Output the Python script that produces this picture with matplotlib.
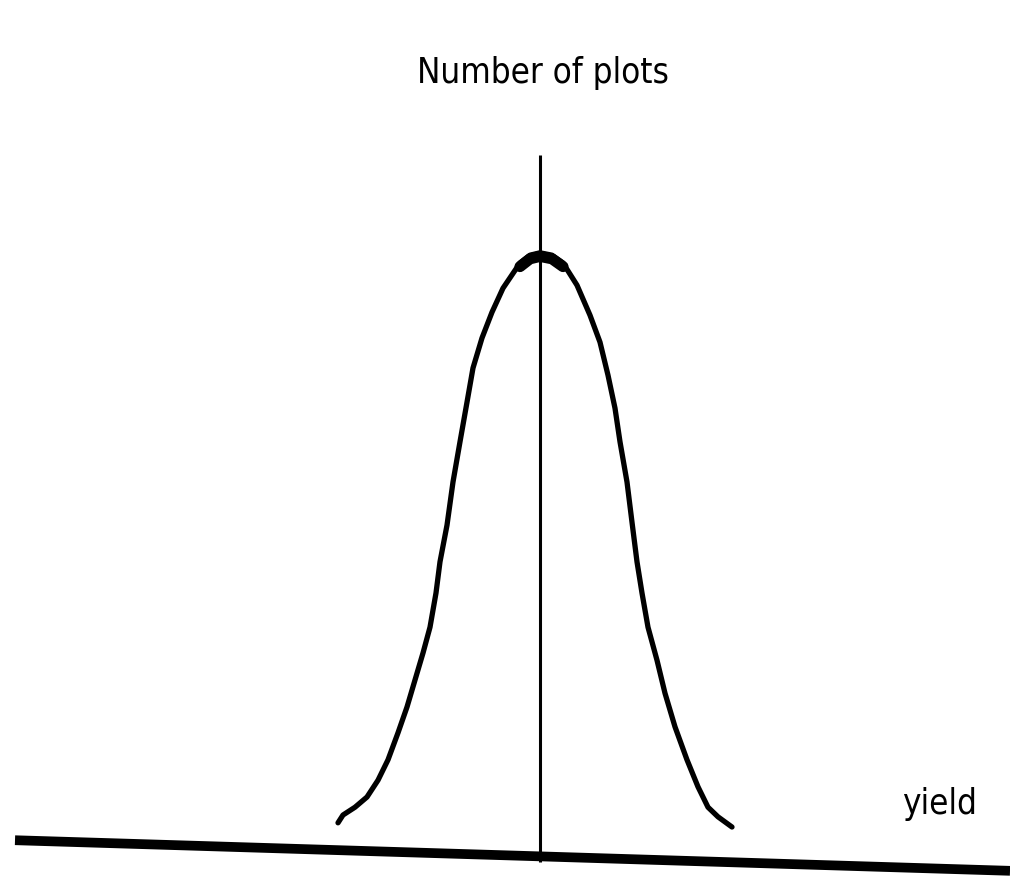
import matplotlib
matplotlib.use('Agg')
import matplotlib.pyplot as plt

# hand-drawn bell curve, x = yield offset from mean, y = number of plots
curve_x = [-10.1, -9.85, -9.25, -8.65, -8.1, -7.6, -7.1, -6.65, -6.25, -5.85, -5.5,
           -5.2, -5.0, -4.65, -4.35, -4.0, -3.65, -3.35, -2.9, -2.4, -1.85, -1.0, -0.5, 0.0,
           0.6, 1.15, 1.85, 2.5, 3.0, 3.4, 3.75, 4.0, 4.35, 4.6, 4.85, 5.1, 5.4, 5.85,
           6.25, 6.75, 7.35, 7.9, 8.4, 8.9, 9.6]
curve_y = [5.7, 7.0, 8.3, 10.0, 12.8, 16.2, 20.7, 25.0, 29.5, 34.0, 38.3,
           44.0, 49.2, 55.3, 62.5, 69.2, 75.8, 81.5, 86.5, 90.8, 94.8, 99.0, 100.3, 100.7,
           100.3, 99.0, 95.3, 90.3, 85.8, 80.3, 74.8, 69.2, 62.5, 55.8, 49.2, 44.0, 38.3, 32.8,
           27.3, 21.7, 16.2, 11.7, 8.3, 6.7, 5.0]

# axis lines as drawn (the base line is a bit slanted)
vert_x = [0.0, 0.0]
vert_y = [117.0, -0.8]
base_x = [-26.25, 23.5]
base_y = [2.8, -2.3]

y_label = 'Number of plots'
x_label = 'yield'

plt.rcParams['font.family'] = ['DejaVu Sans']

fig = plt.figure(figsize=(10.1, 8.77), dpi=100)
ax = fig.add_axes([0, 0, 1, 1])

ax.plot(base_x, base_y, color='black', linewidth=7, solid_capstyle='butt')
ax.plot(vert_x, vert_y, color='black', linewidth=2.2, solid_capstyle='butt')
ax.plot(curve_x, curve_y, color='black', linewidth=3.8, solid_capstyle='round',
        solid_joinstyle='round')

# the pen went over the top a few times, so the peak is heavier
top = [i for i, v in enumerate(curve_y) if v > 98.5]
ax.plot([curve_x[i] for i in top], [curve_y[i] - 0.6 for i in top], color='black',
        linewidth=8, solid_capstyle='round', solid_joinstyle='round')

ax.set_xlim(-27, 23.5)
ax.set_ylim(-3.33, 142.83)
ax.axis('off')

fig.text(0.538, 0.905, y_label, ha='center', va='baseline', fontsize=25,
         fontstretch='condensed', color='black')
fig.text(0.93, 0.072, x_label, ha='center', va='baseline', fontsize=25,
         fontstretch='condensed', color='black')

plt.savefig('out.png', dpi=100, facecolor='white')
